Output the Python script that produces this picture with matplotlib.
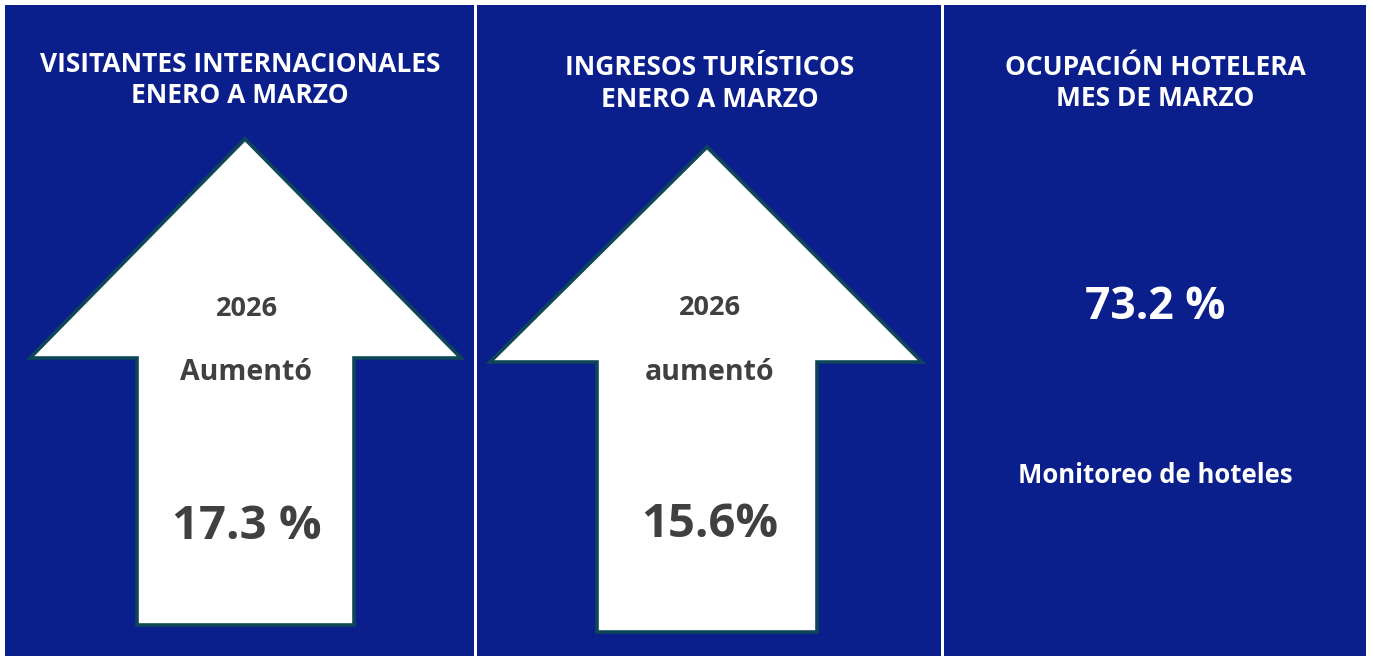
import matplotlib
matplotlib.use("Agg")
import matplotlib.pyplot as plt
from matplotlib.patches import Rectangle, Polygon

# ---- data ----
titles = ["VISITANTES INTERNACIONALES\nENERO A MARZO",
          "INGRESOS TURÍSTICOS\nENERO A MARZO",
          "OCUPACIÓN HOTELERA\nMES DE MARZO"]
years = ["2026", "2026"]
verbs = ["Aumentó", "aumentó"]
values = ["17.3 %", "15.6%"]
occupancy_value = "73.2 %"
occupancy_note = "Monitoreo de hoteles"

# ---- style ----
NAVY = "#0B1F8C"
OUTLINE = "#0E4658"
GRAY = "#404040"
FONT = "Open Sans"

W, H = 1373, 656
fig = plt.figure(figsize=(W / 100, H / 100), dpi=100)
ax = fig.add_axes([0, 0, 1, 1])
ax.set_xlim(0, W)
ax.set_ylim(H, 0)
ax.axis("off")

panels = [(5, 474), (477, 941), (944, 1366)]
for x0, x1 in panels:
    ax.add_patch(Rectangle((x0, 5), x1 - x0, H - 5, facecolor=NAVY, edgecolor="none"))

# arrows: (tip_x, tip_y, head_left, head_right, head_y, shaft_left, shaft_right, bottom)
arrows = [(245, 139, 30, 461, 358, 137, 354, 625),
          (707, 147, 490, 922, 362, 597, 817, 632)]
for tx, ty, hl, hr, hy, sl, sr, b in arrows:
    pts = [(tx, ty), (hr, hy), (sr, hy), (sr, b), (sl, b), (sl, hy), (hl, hy)]
    ax.add_patch(Polygon(pts, closed=True, facecolor="white", edgecolor=OUTLINE,
                         linewidth=2.6, joinstyle="miter"))

title_cx = [240, 709.5, 1155]
title_base = [(72, 103), (75, 107), (75, 106)]
for c, t, (b1, b2) in zip(title_cx, titles, title_base):
    l1, l2 = t.split("\n")
    for line, b in ((l1, b1), (l2, b2)):
        ax.text(c, b, line, ha="center", va="baseline", color="white", fontsize=19,
                fontweight="bold", family=FONT)

arrow_cx = [246.5, 709.5]
bases = [(316, 380, 539), (315, 380, 537)]
for c, yr, vb, val, (by, bv, bval) in zip(arrow_cx, years, verbs, values, bases):
    ax.text(c, by, yr, ha="center", va="baseline", color=GRAY, fontsize=19.5,
            fontweight="bold", family=FONT)
    ax.text(c, bv, vb, ha="center", va="baseline", color=GRAY, fontsize=20.5,
            fontweight="bold", family=FONT)
    ax.text(c, bval, val, ha="center", va="baseline", color=GRAY, fontsize=34,
            fontweight="bold", family=FONT)

ax.text(1155, 319, occupancy_value, ha="center", va="baseline", color="white",
        fontsize=32, fontweight="bold", family=FONT)
ax.text(1155.5, 483, occupancy_note, ha="center", va="baseline", color="white",
        fontsize=18.5, fontweight="bold", family=FONT)

fig.savefig("out.png", dpi=100, facecolor="white")
